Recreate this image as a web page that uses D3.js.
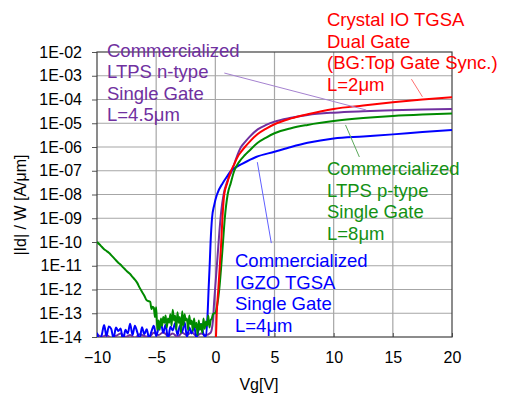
<!DOCTYPE html>
<html>
<head>
<meta charset="utf-8">
<script src="https://cdn.jsdelivr.net/npm/d3@7"></script>
<style>
  body { margin: 0; background: #fff; }
  text { font-family: "Liberation Sans", Arial, sans-serif; }
</style>
</head>
<body>
<div id="chart"></div>
<script>
// Id/W vs Vg, pairs of [Vg (V), Id/W (A/um)]

const xTicks = [-10, -5, 0, 5, 10, 15, 20];
const yTicks = [1e-14, 1e-13, 1e-12, 1e-11, 1e-10, 1e-9, 1e-8, 1e-7, 1e-6, 1e-5, 1e-4, 1e-3, 1e-2];

// Commercialized LTPS n-type (purple)
const ltpsN = [
  [-10, 1.3e-14], [-9.6, 1.0e-14], [-9.2, 1.2e-14], [-8.8, 0.9e-14], [-8.4, 1.1e-14],
  [-8.0, 1.4e-14], [-7.6, 1.0e-14], [-7.2, 1.2e-14], [-6.8, 0.9e-14], [-6.4, 1.3e-14],
  [-6.0, 1.1e-14], [-5.6, 1.0e-14], [-5.2, 1.5e-14], [-4.8, 1.2e-14], [-4.4, 1.6e-14],
  [-4.0, 1.1e-14], [-3.6, 1.4e-14], [-3.2, 1.0e-14], [-2.8, 1.5e-14], [-2.4, 1.2e-14],
  [-2.0, 1.6e-14], [-1.6, 1.1e-14], [-1.2, 1.4e-14], [-0.8, 1.2e-14], [-0.4, 1.5e-14],
  [-0.2, 5e-14], [-0.1, 3e-13], [0.05, 3e-12], [0.2, 3e-11], [0.35, 3e-10], [0.5, 2e-9],
  [0.7, 1e-8], [1.0, 3.5e-8], [1.41, 1e-7], [1.75, 3.2e-7], [2.17, 1e-6], [2.5, 1.6e-6],
  [2.87, 2.6e-6], [3.58, 5.5e-6], [4.3, 8.5e-6], [5, 1.17e-5], [6.4, 1.7e-5], [7.8, 2.24e-5],
  [10, 2.8e-5], [12.5, 3.2e-5], [15, 3.5e-5], [17.5, 3.8e-5], [20, 4.0e-5]
];

// Commercialized IGZO TGSA (blue)
const igzo = [
  [-10, 1.5e-14], [-9.8, 0.8e-14], [-9.6, 1.2e-14], [-9.4, 3.2e-14], [-9.2, 1.1e-14],
  [-9.0, 2.8e-14], [-8.8, 2.2e-14], [-8.6, 0.9e-14], [-8.4, 2.5e-14], [-8.2, 1.8e-14],
  [-8.0, 2.3e-14], [-7.8, 0.7e-14], [-7.6, 2.0e-14], [-7.4, 1.4e-14], [-7.2, 3.6e-14],
  [-7.0, 1.2e-14], [-6.8, 3.0e-14], [-6.6, 1.6e-14], [-6.4, 0.8e-14], [-6.2, 2.6e-14],
  [-6.0, 1.3e-14], [-5.8, 2.1e-14], [-5.6, 0.9e-14], [-5.4, 1.7e-14], [-5.2, 3.0e-14],
  [-5.0, 1.1e-14], [-4.8, 2.4e-14], [-4.6, 4.0e-14], [-4.4, 1.5e-14], [-4.2, 3.4e-14],
  [-4.0, 0.8e-14], [-3.8, 2.7e-14], [-3.6, 1.9e-14], [-3.4, 3.8e-14], [-3.2, 1.2e-14],
  [-3.0, 2.9e-14], [-2.8, 1.6e-14], [-2.6, 4.2e-14], [-2.4, 1.0e-14], [-2.2, 2.5e-14],
  [-2.0, 1.4e-14], [-1.8, 3.1e-14], [-1.6, 0.9e-14], [-1.4, 2.2e-14], [-1.2, 3.5e-14],
  [-1.0, 1.3e-14], [-0.8, 1.0e-14], [-0.65, 1e-13], [-0.57, 1e-12], [-0.48, 1e-11],
  [-0.4, 1e-10], [-0.28, 1e-9], [-0.1, 3.5e-9], [0.14, 1e-8], [0.62, 3e-8], [1.0, 5.8e-8],
  [1.33, 1e-7], [1.8, 1.45e-7], [2.3, 2e-7], [3.44, 3.8e-7], [5, 6.3e-7], [6.4, 1e-6],
  [7.8, 1.5e-6], [10, 2.3e-6], [12.5, 2.8e-6], [15, 3.4e-6], [17.5, 4.3e-6], [20, 5.2e-6]
];

// Commercialized LTPS p-type (green)
const ltpsP = [
  [-10, 1.0e-10], [-9.8, 8.0e-11], [-9.6, 6.3e-11], [-9.4, 5.0e-11], [-9.2, 4.2e-11],
  [-9.0, 3.5e-11], [-8.8, 2.8e-11], [-8.6, 2.2e-11], [-8.4, 1.7e-11], [-8.2, 1.35e-11],
  [-8.0, 1.1e-11], [-7.8, 8.5e-12], [-7.6, 6.8e-12], [-7.4, 5.4e-12], [-7.2, 4.5e-12],
  [-7.0, 3.4e-12], [-6.8, 2.6e-12], [-6.6, 1.9e-12], [-6.4, 1.2e-12], [-6.2, 8e-13],
  [-6.0, 5.5e-13], [-5.8, 3.5e-13], [-5.6, 3.2e-13], [-5.5, 3.0e-13], [-5.4, 1.5e-13],
  [-5.3, 1.9e-13], [-5.2, 1.7e-13], [-5.1, 7e-14], [-5.0, 1.8e-13], [-4.9, 2e-14],
  [-4.8, 5e-14], [-4.7, 2e-14], [-4.6, 6e-14], [-4.5, 3e-14], [-4.4, 7e-14], [-4.3, 4e-14],
  [-4.2, 8e-14], [-4.1, 2.5e-14], [-4.0, 6e-14], [-3.9, 4e-14], [-3.8, 9e-14], [-3.7, 3e-14],
  [-3.6, 1.4e-13], [-3.5, 5e-14], [-3.4, 8e-14], [-3.3, 2e-14], [-3.2, 1.1e-13], [-3.1, 4e-14],
  [-3.0, 7e-14], [-2.9, 1.5e-14], [-2.8, 1.2e-13], [-2.7, 3e-14], [-2.6, 9e-14], [-2.5, 5e-14],
  [-2.4, 6e-14], [-2.3, 2e-14], [-2.2, 8e-14], [-2.1, 3.5e-14], [-2.0, 5e-14], [-1.9, 1.8e-14],
  [-1.8, 6e-14], [-1.7, 2.5e-14], [-1.6, 4e-14], [-1.5, 1.2e-14], [-1.4, 5e-14], [-1.3, 2e-14],
  [-1.2, 3.5e-14], [-1.1, 1.5e-14], [-1.0, 6e-14], [-0.9, 2.2e-14], [-0.8, 4.5e-14],
  [-0.7, 3e-14], [-0.6, 8e-14], [-0.5, 2.5e-14], [-0.4, 5e-14], [-0.3, 6e-14], [-0.2, 9e-14],
  [-0.1, 1e-13], [0.0, 1e-13], [0.1, 1.5e-13], [0.33, 1e-12], [0.5, 1e-11], [0.65, 1e-10],
  [0.8, 1e-9], [1.04, 1e-8], [1.3, 3e-8], [1.6, 1e-7], [2.0, 2.3e-7], [2.5, 4.6e-7],
  [2.87, 7e-7], [3.58, 1.5e-6], [4.3, 2.5e-6], [5, 3.8e-6], [6.4, 6.2e-6], [7.8, 8.5e-6],
  [10, 1.23e-5], [12.5, 1.65e-5], [15, 2.04e-5], [17.5, 2.35e-5], [20, 2.6e-5]
];

// Crystal IO TGSA dual gate (red)
const crystalIO = [
  [-0.05, 5e-15], [0.05, 1e-14], [0.12, 1e-13], [0.25, 1e-12], [0.38, 1e-11], [0.5, 1e-10],
  [0.6, 1e-9], [0.75, 1e-8], [1.0, 3e-8], [1.33, 1e-7], [1.6, 1.9e-7], [1.9, 4e-7],
  [2.17, 6.2e-7], [2.5, 1e-6], [2.87, 1.6e-6], [3.58, 3.5e-6], [4.3, 6e-6], [5, 9.1e-6],
  [6.4, 1.6e-5], [7.8, 2.4e-5], [10, 4.0e-5], [12.5, 5.6e-5], [15, 7.6e-5], [17.5, 1.0e-4],
  [20, 1.26e-4]
];

const width = 506, height = 395;
const margin = { top: 52, right: 54, bottom: 58, left: 97 };

const svg = d3.select("#chart").append("svg")
  .attr("width", width)
  .attr("height", height);

const x = d3.scaleLinear().domain([-10, 20]).range([margin.left, width - margin.right]);
const y = d3.scaleLog().domain([1e-14, 1e-2]).range([height - margin.bottom, margin.top]);

// grid
svg.append("g").attr("class", "grid")
  .selectAll("line.v")
  .data(xTicks.slice(1, -1))
  .join("line")
  .attr("x1", d => x(d)).attr("x2", d => x(d))
  .attr("y1", y.range()[1]).attr("y2", y.range()[0])
  .attr("stroke", "#a6a6a6").attr("stroke-width", 1.2);

svg.append("g").attr("class", "grid")
  .selectAll("line.h")
  .data(yTicks.slice(1, -1))
  .join("line")
  .attr("x1", x.range()[0]).attr("x2", x.range()[1])
  .attr("y1", d => y(d)).attr("y2", d => y(d))
  .attr("stroke", "#a6a6a6").attr("stroke-width", 1.2);

// axes
const fmtExp = d => "1E-" + String(-Math.round(Math.log10(d))).padStart(2, "0");

const yAxis = svg.append("g")
  .attr("transform", "translate(" + margin.left + ",0)")
  .call(d3.axisLeft(y).tickValues(yTicks).tickFormat(fmtExp).tickSizeInner(5).tickSizeOuter(0).tickPadding(10));

const xAxis = svg.append("g")
  .attr("transform", "translate(0," + (height - margin.bottom) + ")")
  .call(d3.axisBottom(x).tickValues(xTicks).tickSizeInner(-4).tickSizeOuter(0).tickPadding(15));

[xAxis, yAxis].forEach(a => {
  a.selectAll("text").attr("font-size", 16).attr("fill", "#000")
    .style("font-family", "'Liberation Sans', Arial, sans-serif");
  a.selectAll("line").attr("stroke", "#555");
  a.select(".domain").attr("stroke", "none");
});

// plot frame
svg.append("rect")
  .attr("x", x.range()[0]).attr("y", y.range()[1])
  .attr("width", x.range()[1] - x.range()[0])
  .attr("height", y.range()[0] - y.range()[1])
  .attr("fill", "none").attr("stroke", "#404040").attr("stroke-width", 1.2);

// axis labels
svg.append("text")
  .attr("x", 259).attr("y", 390)
  .attr("text-anchor", "middle").attr("font-size", 16)
  .text("Vg[V]");

svg.append("text")
  .attr("transform", "translate(26,205) rotate(-90)")
  .attr("text-anchor", "middle").attr("font-size", 16)
  .text("|Id| / W [A/μm]");

// curves
svg.append("clipPath").attr("id", "plot-clip")
  .append("rect")
  .attr("x", x.range()[0]).attr("y", y.range()[1])
  .attr("width", x.range()[1] - x.range()[0])
  .attr("height", y.range()[0] - y.range()[1]);

const line = d3.line()
  .x(d => x(d[0]))
  .y(d => y(d[1]))
  .curve(d3.curveMonotoneX);

const series = [
  { data: ltpsN, color: "#7030a0" },
  { data: igzo, color: "#0000ff" },
  { data: ltpsP, color: "#008a00" },
  { data: crystalIO, color: "#ff0000" }
];

const curves = svg.append("g").attr("clip-path", "url(#plot-clip)");
curves.selectAll("path")
  .data(series)
  .join("path")
  .attr("d", d => line(d.data))
  .attr("fill", "none")
  .attr("stroke", d => d.color)
  .attr("stroke-width", 2)
  .attr("stroke-linejoin", "round");

// annotations: leader lines in data coordinates, text in pixels
const notes = [
  { color: "#ff0000", lead: "#ff7070", x: 327, y: 26, from: [16.57, 7.2e-4], to: [17.5, 1.3e-4],
    lines: ["Crystal IO TGSA", "Dual Gate", "(BG:Top Gate Sync.)", "L=2μm"] },
  { color: "#7030a0", lead: "#a582d0", x: 107, y: 56.5, from: [0.76, 1.3e-3], to: [12.76, 3.6e-5],
    lines: ["Commercialized", "LTPS n-type", "Single Gate", "L=4.5μm"] },
  { color: "#139013", lead: "#5aa85a", x: 327, y: 175, from: [11.0, 8.5e-6], to: [12.17, 3.8e-7],
    lines: ["Commercialized", "LTPS p-type", "Single Gate", "L=8μm"] },
  { color: "#0000ff", lead: "#6060ff", x: 235, y: 267, from: [3.55, 2.3e-7], to: [4.73, 9e-11],
    lines: ["Commercialized", "IGZO TGSA", "Single Gate", "L=4μm"] }
];

const ann = svg.append("g");
notes.forEach(n => {
  ann.append("line")
    .attr("x1", x(n.from[0])).attr("y1", y(n.from[1]))
    .attr("x2", x(n.to[0])).attr("y2", y(n.to[1]))
    .attr("stroke", n.lead).attr("stroke-width", 1);
  const t = ann.append("text")
    .attr("x", n.x).attr("y", n.y)
    .attr("font-size", 18.5).attr("fill", n.color);
  n.lines.forEach((s, i) => {
    t.append("tspan").attr("x", n.x).attr("y", n.y + i * 21.5).text(s);
  });
});
</script>
</body>
</html>
